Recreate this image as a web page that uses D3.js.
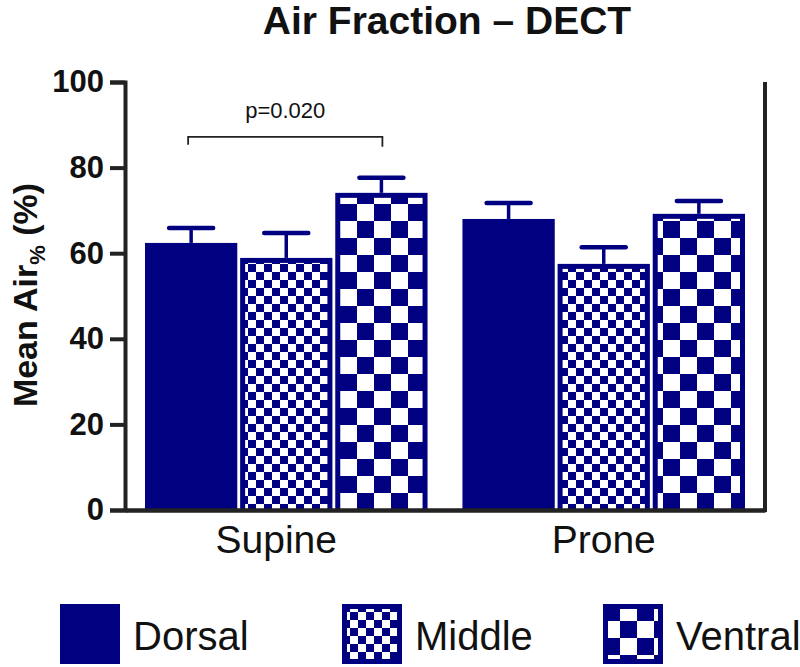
<!DOCTYPE html>
<html lang="en">
<head>
<meta charset="UTF-8">
<title>Air Fraction – DECT</title>
<script src="https://d3js.org/d3.v7.min.js"></script>
<style>
  body { margin: 0; background: #fff; }
  svg { display: block; font-family: "Liberation Sans", Arial, sans-serif; }
</style>
</head>
<body>
<svg id="chart" width="800" height="667"></svg>
<script>
// data
const positions = ["Supine", "Prone"];
const regions = ["Dorsal", "Middle", "Ventral"];
const meanAir = {
  Supine: [62.4, 58.9, 74.1],
  Prone:  [68.0, 57.5, 69.2]
};
const errTop = {
  Supine: [65.9, 64.7, 77.6],
  Prone:  [71.7, 61.4, 72.2]
};
const yTicks = [0, 20, 40, 60, 80, 100];
const pLabel = "p=0.020";

const navy = "#000080";
const svg = d3.select("#chart");

const defs = svg.append("defs");
// checker patterns: small for Middle, big for Ventral
let makeChecker = (id, c) => {
  let p = defs.append("pattern")
    .attr("id", id)
    .attr("patternUnits", "userSpaceOnUse")
    .attr("width", c * 2)
    .attr("height", c * 2);
  p.append("rect").attr("width", c * 2).attr("height", c * 2).attr("fill", "#fff");
  p.append("rect").attr("width", c).attr("height", c).attr("fill", navy);
  p.append("rect").attr("x", c).attr("y", c).attr("width", c).attr("height", c).attr("fill", navy);
};
makeChecker("chkSmall", 8);
makeChecker("chkBig", 17);
const fills = { Dorsal: navy, Middle: "url(#chkSmall)", Ventral: "url(#chkBig)" };

const y = d3.scaleLinear().domain([0, 100]).range([510, 82]);
const x0 = d3.scaleBand().domain(positions).range([125, 765])
  .paddingInner(0.11).paddingOuter(0.063);
const x1 = d3.scaleBand().domain(regions).range([0, x0.bandwidth()]).paddingInner(0.03);

// title
svg.append("text")
  .attr("x", 447).attr("y", 34)
  .attr("text-anchor", "middle")
  .attr("font-size", 39).attr("font-weight", "bold").attr("fill", "#111")
  .text("Air Fraction – DECT");

// bars
const border = 5;
let rows = [];
positions.forEach(pos => {
  regions.forEach((r, i) => {
    rows.push({ pos: pos, region: r, value: meanAir[pos][i], top: errTop[pos][i] });
  });
});

let barG = svg.append("g");
rows.forEach(d => {
  let bx = x0(d.pos) + x1(d.region);
  let bw = x1.bandwidth();
  let by = y(d.value);
  let bh = y(0) - by;
  let cx = bx + bw / 2;
  // error bar
  barG.append("line")
    .attr("x1", cx).attr("x2", cx)
    .attr("y1", y(d.top)).attr("y2", by)
    .attr("stroke", navy).attr("stroke-width", 3.5);
  barG.append("line")
    .attr("x1", cx - 22).attr("x2", cx + 22)
    .attr("y1", y(d.top)).attr("y2", y(d.top))
    .attr("stroke", navy).attr("stroke-width", 4.5)
    .attr("stroke-linecap", "round");
  barG.append("rect")
    .attr("x", bx).attr("y", by).attr("width", bw).attr("height", bh)
    .attr("fill", navy);
  if (d.region !== "Dorsal") {
    barG.append("rect")
      .attr("x", bx + border).attr("y", by + border)
      .attr("width", bw - 2 * border).attr("height", bh - border)
      .attr("fill", fills[d.region]);
  }
});

// axes
const yAxis = d3.axisLeft(y).tickValues(yTicks).tickSize(15).tickPadding(6);
let ya = svg.append("g").attr("transform", "translate(125,0)").call(yAxis);
ya.select(".domain").attr("stroke", "#222").attr("stroke-width", 4);
ya.selectAll(".tick line").attr("stroke", "#222").attr("stroke-width", 4);
ya.selectAll(".tick text")
  .attr("font-size", 31).attr("font-weight", "bold").attr("fill", "#111")
  .attr("font-family", "Liberation Sans, Arial, sans-serif");

const xAxis = d3.axisBottom(x0).tickSize(0).tickPadding(15);
let xa = svg.append("g").attr("transform", "translate(0,510)").call(xAxis);
xa.select(".domain").attr("stroke", "#222").attr("stroke-width", 4.5);
xa.selectAll(".tick text")
  .attr("font-size", 39).attr("fill", "#111")
  .attr("font-family", "Liberation Sans, Arial, sans-serif")
  .attr("dx", d => d === "Supine" ? -10 : 0);

// right frame line
svg.append("line")
  .attr("x1", 765).attr("x2", 765)
  .attr("y1", y(100)).attr("y2", y(0) + 2)
  .attr("stroke", "#222").attr("stroke-width", 4);

// y label
let yl = svg.append("text")
  .attr("transform", "translate(37,295) rotate(-90)")
  .attr("text-anchor", "middle")
  .attr("font-size", 34).attr("font-weight", "bold").attr("fill", "#111");
yl.append("tspan").text("Mean Air");
yl.append("tspan").attr("font-size", 22).attr("dy", 8).text("%");
yl.append("tspan").attr("dy", -8).text(" (%)");

// significance bracket Supine Dorsal vs Ventral
let bL = x0("Supine") + x1("Dorsal") + x1.bandwidth() / 2 - 3;
let bR = x0("Supine") + x1("Ventral") + x1.bandwidth() / 2 + 1;
let bY = y(87.2);
svg.append("path")
  .attr("d", `M${bL},${bY + 8}V${bY}H${bR}V${bY + 10}`)
  .attr("fill", "none").attr("stroke", "#222").attr("stroke-width", 1.8);
svg.append("text")
  .attr("x", (bL + bR) / 2).attr("y", bY - 19)
  .attr("text-anchor", "middle").attr("font-size", 22).attr("fill", "#111")
  .text(pLabel);

// legend
const legX = [60, 342, 603];
let leg = svg.append("g");
regions.forEach((r, i) => {
  let g = leg.append("g").attr("transform", `translate(${legX[i]},604)`);
  g.append("rect").attr("width", 60).attr("height", 60).attr("fill", navy);
  if (r !== "Dorsal") {
    g.append("rect").attr("x", border).attr("y", border)
      .attr("width", 60 - 2 * border).attr("height", 60 - 2 * border)
      .attr("fill", fills[r]);
  }
  g.append("text").attr("x", 73).attr("y", 46)
    .attr("font-size", 40).attr("fill", "#111").text(r);
});
</script>
</body>
</html>
